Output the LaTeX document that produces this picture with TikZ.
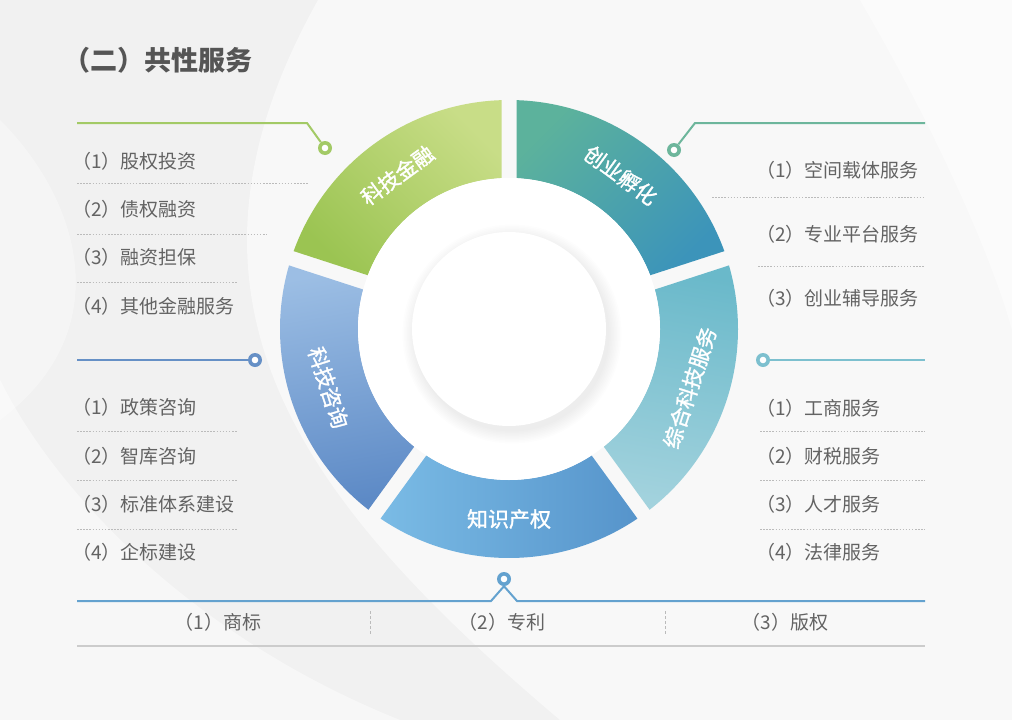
\documentclass[tikz,border=0pt]{standalone}
\usepackage{fontspec}
\setmainfont{Noto Sans CJK SC}
\newfontfamily\segfont{Noto Sans CJK SC}[FakeBold=1.4]
\usetikzlibrary{calc}
\definecolor{bgc}{HTML}{F1F1F1}
\definecolor{txtc}{HTML}{636363}
\definecolor{ttlc}{HTML}{555555}
\definecolor{cgreen}{HTML}{A3CA66}
\definecolor{cteal}{HTML}{6DB69C}
\definecolor{cblue}{HTML}{6690C6}
\definecolor{clight}{HTML}{7DC0CF}
\definecolor{cbot}{HTML}{64A2CF}
\definecolor{dotc}{HTML}{BBBBBB}
\newcommand\ringseg[3]{\shade[#3] ({#1+1.877}:229) arc[start angle={#1+1.877}, end angle={#2-1.877}, radius=229] -- ({#2-2.847}:151) arc[start angle={#2-2.847}, end angle={#1+2.847}, radius=151] -- cycle;}
\begin{document}
\begin{tikzpicture}[x=1pt,y=1pt,
  seglbl/.style={text=white, font=\fontsize{21}{21}\segfont, inner sep=0pt},
  item/.style={text=txtc, font=\fontsize{19}{19}\selectfont, inner sep=0pt, anchor=west},
  bitem/.style={text=txtc, font=\fontsize{19}{19}\selectfont, inner sep=0pt},
  marker/.style={circle, fill=#1, minimum size=14pt, inner sep=0pt,
     path picture={\fill[white] (path picture bounding box.center) circle (3.3pt);}},
  conn/.style={draw=#1, line width=2pt},
  dotl/.style={draw=dotc, line width=0.9pt, dash pattern=on 1.5pt off 1.6pt},
  sepl/.style={draw=dotc, line width=0.9pt, dash pattern=on 3pt off 2pt}]
\useasboundingbox (0,0) rectangle (1012,-720);
% background
\fill[bgc] (0,0) rectangle (1012,-720);
\fill[white, opacity=0.5] (318,0) -- (1012,0) -- (1012,-720) -- (560,-720) .. controls (300,-500) and (150,-300) .. cycle;
\fill[white, opacity=0.45] (0,-720) -- (0,-380) .. controls (60,-500) and (200,-640) .. (400,-720) -- cycle;
\fill[white, opacity=0.35] (0,-120) .. controls (80,-200) and (120,-330) .. (0,-420) -- cycle;
\fill[white, opacity=0.5] (860,0) .. controls (930,-120) and (990,-250) .. (1012,-330) -- (1012,0) -- cycle;
% title
\node[text=ttlc, font=\fontsize{27}{27}\selectfont\bfseries, inner sep=0pt, anchor=west] (title) at (63,-60) {（二）共性服务};
% ring
\begin{scope}[shift={(509,-329)}]
  \ringseg{90}{162}{top color={rgb,255:red,200;green,221;blue,135}, bottom color={rgb,255:red,155;green,196;blue,82}, shading angle=-45}
  \ringseg{18}{90}{top color={rgb,255:red,92;green,178;blue,156}, bottom color={rgb,255:red,60;green,148;blue,186}, shading angle=45}
  \ringseg{-54}{18}{top color={rgb,255:red,106;green,185;blue,202}, bottom color={rgb,255:red,162;green,210;blue,221}, shading angle=-10}
  \ringseg{-126}{-54}{top color={rgb,255:red,122;green,187;blue,229}, bottom color={rgb,255:red,86;green,148;blue,203}, shading angle=90}
  \ringseg{162}{234}{top color={rgb,255:red,156;green,190;blue,228}, bottom color={rgb,255:red,93;green,138;blue,198}, shading angle=10}
  \fill[white] (0,0) circle (151);
  \foreach \i in {1,...,9} \fill[black, opacity=0.006] (3,-5) circle ({96+\i*1.5});
  \fill[white] (0,0) circle (97);
  \node[seglbl, rotate=36] (s1) at (126:190) {科技金融};
  \node[seglbl, rotate=-36] (s2) at (54:190) {创业孵化};
  \node[seglbl, rotate=72] (s3) at (-18:190) {综合科技服务};
  \node[seglbl] (s4) at (-90:190) {知识产权};
  \node[seglbl, rotate=-72] (s5) at (198:190) {科技咨询};
\end{scope}
% markers
\node[marker=cgreen] (m1) at (325,-148) {};
\node[marker=cteal] (m2) at (674,-150) {};
\node[marker=cblue] (m3) at (255,-360) {};
\node[marker=clight] (m4) at (763,-360) {};
\node[marker=cbot] (m5) at (504,-579) {};
% connectors
\coordinate (a1) at (77,-123); \coordinate (a2) at (307,-123);
\draw[conn=cgreen] (a1) -- (a2) -- (m1);
\coordinate (b1) at (925,-123); \coordinate (b2) at (695,-123);
\draw[conn=cteal] (b1) -- (b2) -- (m2);
\coordinate (c1) at (77,-360);
\draw[conn=cblue] (c1) -- (m3);
\coordinate (d1) at (925,-360);
\draw[conn=clight] (m4) -- (d1);
\coordinate (e1) at (77,-601); \coordinate (e2) at (491,-601); \coordinate (e3) at (517,-601); \coordinate (e4) at (925,-601);
\draw[conn=cbot] (e1) -- (e2) -- (m5.south) -- (e3) -- (e4);
\coordinate (f1) at (77,-646); \coordinate (f2) at (925,-646);
\draw[draw=black!20, line width=1.8pt] (f1) -- (f2);
% left upper list
\node[item] (L1) at (72,-161) {（1）股权投资};
\node[item] (L2) at (72,-209) {（2）债权融资};
\node[item] (L3) at (72,-257) {（3）融资担保};
\node[item] (L4) at (72,-306) {（4）其他金融服务};
\draw[dotl] (77,-183) -- (308,-183);
\draw[dotl] (77,-234) -- (267,-234);
\draw[dotl] (77,-282) -- (238,-282);
% left lower list
\node[item] (K1) at (72,-407) {（1）政策咨询};
\node[item] (K2) at (72,-456) {（2）智库咨询};
\node[item] (K3) at (72,-504) {（3）标准体系建设};
\node[item] (K4) at (72,-552) {（4）企标建设};
\draw[dotl] (77,-431) -- (238,-431);
\draw[dotl] (77,-480) -- (238,-480);
\draw[dotl] (77,-529) -- (238,-529);
% right upper list
\node[item] (R1) at (756,-170) {（1）空间载体服务};
\node[item] (R2) at (756,-234) {（2）专业平台服务};
\node[item] (R3) at (756,-298) {（3）创业辅导服务};
\draw[dotl] (712,-197) -- (925,-197);
\draw[dotl] (758,-266) -- (925,-266);
% right lower list
\node[item] (Q1) at (756,-408) {（1）工商服务};
\node[item] (Q2) at (756,-456) {（2）财税服务};
\node[item] (Q3) at (756,-504) {（3）人才服务};
\node[item] (Q4) at (756,-552) {（4）法律服务};
\draw[dotl] (760,-431) -- (925,-431);
\draw[dotl] (760,-480) -- (925,-480);
\draw[dotl] (760,-529) -- (925,-529);
% bottom list
\node[bitem] (B1) at (218,-622) {（1）商标};
\node[bitem] (B2) at (502,-622) {（2）专利};
\node[bitem] (B3) at (785,-622) {（3）版权};
\draw[sepl] (370,-611) -- (370,-634);
\draw[sepl] (665,-611) -- (665,-634);
\end{tikzpicture}
\end{document}
